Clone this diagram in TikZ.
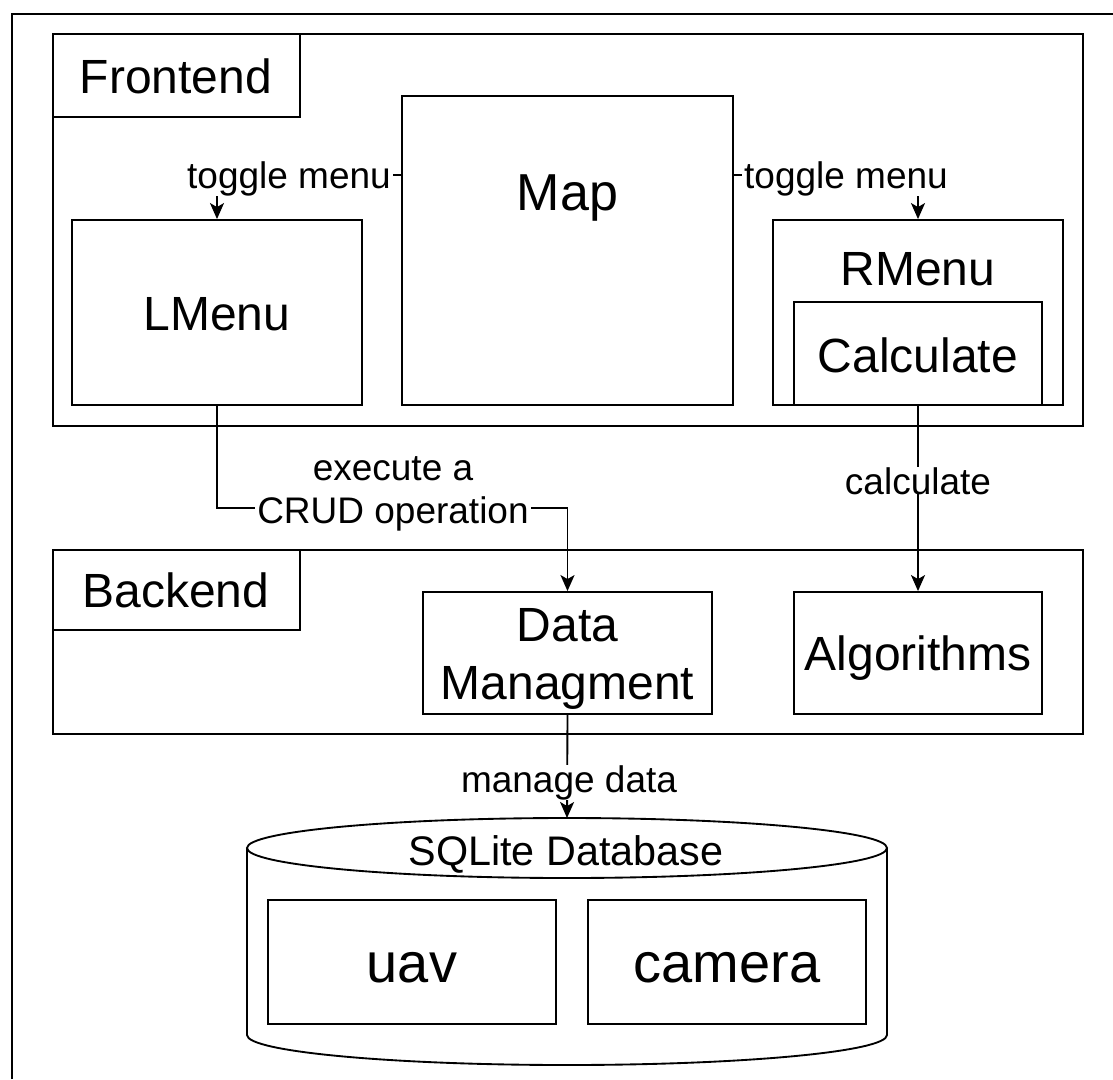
\documentclass[tikz,border=0pt]{standalone}
\usepackage{fontspec}
\setmainfont{Liberation Sans}
\usetikzlibrary{arrows.meta,fit}
\tikzset{
  x=0.75pt, y=-0.75pt,
  line/.style={line width=1.4pt, draw=black},
  box/.style={line, rectangle, inner sep=0pt, fill=white},
  conn/.style={line, -{Stealth[length=12pt, width=10.5pt, inset=3pt]}},
  big/.style={font=\fontsize{36}{43}\selectfont, anchor=base, inner sep=0pt},
  huge/.style={font=\fontsize{39}{47}\selectfont, anchor=base, inner sep=0pt},
  dbtext/.style={font=\fontsize{42}{50}\selectfont, anchor=base, inner sep=0pt},
  lbl/.style={font=\fontsize{27.75}{33}\selectfont, anchor=base, fill=white, inner xsep=1.5pt, inner ysep=0pt},
}
\begin{document}
\begin{tikzpicture}
\useasboundingbox (0,0) rectangle (1113,1079);
\fill[white] (0,0) rectangle (1113,1079);
% outer frame (top and left)
\draw[line] (12,1079) -- (12,14) -- (1113,14);

% Frontend container
\node[box, fit={(53,34) (1083,426)}] (front) {};
\node[box, fit={(53,34) (300,117)}] (fronthead) {};
\node[big] (frontlbl) at (176,93) {Frontend};

\node[box, fit={(72,220) (362,405)}] (lmenu) {};
\node[big] (lmenulbl) at (217,330) {LMenu};

\node[box, fit={(402,96) (733,405)}] (map) {};
\node[huge] (maplbl) at (567.5,210) {Map};

\node[box, fit={(773,220) (1063,405)}] (rmenu) {};
\node[big] (rmenulbl) at (918,285) {RMenu};
\node[box, fit={(794,302) (1042,405)}] (calc) {};
\node[big] (calclbl) at (918,372) {Calculate};

% Backend container
\node[box, fit={(53,550) (1083,734)}] (back) {};
\node[box, fit={(53,550) (300,630)}] (backhead) {};
\node[big] (backlbl) at (176,607) {Backend};

\node[box, fit={(423,592) (712,714)}] (dm) {};
\node[big] (dmlbl1) at (567.5,641) {Data};
\node[big] (dmlbl2) at (567.5,699) {Managment};

\node[box, fit={(794,592) (1042,714)}] (alg) {};
\node[big] (alglbl) at (918,670) {Algorithms};

% Database cylinder
\draw[line, fill=white] (247,848) -- (247,1035) arc[start angle=180, end angle=0, x radius=320, y radius=30] -- (887,848);
\draw[line, fill=white] (567,848) ellipse[x radius=320, y radius=30];
\coordinate (dbtop) at (567,818);
\node[font=\fontsize{31}{37}\selectfont, anchor=base, inner sep=0pt] (dblbl) at (566,865) {SQLite Database};
\node[box, fit={(268,900) (556,1024)}] (uav) {};
\node[dbtext] (uavlbl) at (412,982) {uav};
\node[box, fit={(588,900) (866,1024)}] (camera) {};
\node[dbtext] (cameralbl) at (727,982) {camera};

% connectors
\coordinate (ytoggle) at (0,175);
\coordinate (ycrud) at (0,508);
\draw[conn] (map.west |- ytoggle) -| (lmenu.north);
\node[lbl] (tl) at (289,188) {toggle menu};
\draw[conn] (map.east |- ytoggle) -| (rmenu.north);
\node[lbl] (tr) at (846,188) {toggle menu};

\draw[conn] (lmenu.south) -- (lmenu.south |- ycrud) -| (dm.north);
\node[lbl] (crud1) at (393,480) {execute a};
\node[lbl] (crud2) at (393,523) {CRUD operation};

\draw[conn] (calc.south) -- (alg.north);
\node[lbl] (calcl) at (918,494) {calculate};

\draw[conn] (dm.south) -- (dbtop);
\node[lbl] (mgl) at (569,792) {manage data};
\end{tikzpicture}
\end{document}
